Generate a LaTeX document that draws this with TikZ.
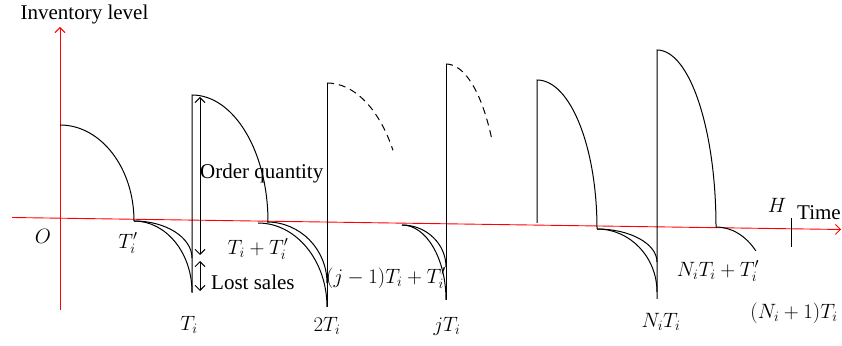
\documentclass[tikz,border=0pt]{standalone}
\usepackage{fontspec}
\setmainfont{Liberation Serif}
\usetikzlibrary{arrows.meta}
\tikzset{
  axisline/.style={draw=red, line width=0.9pt, -{Straight Barb[length=5pt,width=10pt]}},
  curve/.style={draw=black, line width=1pt},
  dcurve/.style={draw=black, line width=1pt, dash pattern=on 7pt off 5pt},
  dimarrow/.style={draw=black, line width=0.9pt, {Straight Barb[length=5pt,width=10pt]}-{Straight Barb[length=5pt,width=10pt]}},
  lbl/.style={inner sep=0pt, font=\fontsize{21}{24}\selectfont},
  mlbl/.style={inner sep=0pt, font=\fontsize{22}{25}\selectfont},
}
\begin{document}
\begin{tikzpicture}[x=1pt,y=1pt]
\useasboundingbox (0,0) rectangle (842,345);
% axes
\coordinate (ybot) at (60,35);
\coordinate (ytop) at (60,318);
\coordinate (xl) at (12,127.5);
\coordinate (xr) at (841,115.5);
\draw[axisline] (ybot) -- (ytop);
\draw[axisline] (xl) -- (xr);
% first cycle
\draw[curve] (60,220) arc[start angle=90,end angle=0,x radius=74,y radius=96];
\draw[curve] (134,124) arc[start angle=90,end angle=0,x radius=58,y radius=71];
\draw[curve] (134,124) arc[start angle=90,end angle=0,x radius=58,y radius=37];
\draw[curve] (192,52) -- (192,250) arc[start angle=90,end angle=0,x radius=76,y radius=127];
% dimension arrows
\coordinate (oqt) at (200,248);
\coordinate (oqb) at (200,90);
\coordinate (lst) at (200,84);
\coordinate (lsb) at (200,54);
\draw[dimarrow] (oqt) -- (oqb);
\draw[dimarrow] (lst) -- (lsb);
% second cycle
\draw[curve] (258,122) arc[start angle=90,end angle=0,x radius=69,y radius=84];
\draw[curve] (267,123) arc[start angle=90,end angle=0,x radius=60,y radius=61];
\draw[curve] (327,38) -- (327,262);
\draw[dcurve] (327,262) arc[start angle=90,end angle=31,x radius=77,y radius=139];
% third cycle
\draw[curve] (402,120) arc[start angle=90,end angle=0,x radius=44,y radius=75];
\draw[curve] (402,120) arc[start angle=90,end angle=0,x radius=44,y radius=42];
\draw[curve] (446,45) -- (446,281);
\draw[dcurve] (446,281) arc[start angle=90,end angle=32,x radius=54,y radius=160];
% fourth cycle
\draw[curve] (537,122) -- (537,265) arc[start angle=90,end angle=0,x radius=60,y radius=149];
\draw[curve] (597,116) arc[start angle=90,end angle=0,x radius=60,y radius=63];
\draw[curve] (597,116) arc[start angle=90,end angle=0,x radius=60,y radius=33];
\draw[curve] (657,46) -- (657,295) arc[start angle=90,end angle=0,x radius=59,y radius=177];
\draw[curve] (716,118) arc[start angle=90,end angle=40,x radius=52,y radius=67];
% horizon tick
\draw[curve] (791,127) -- (791,98);
% labels
\node[lbl] (inv) at (84.5,331) {Inventory level};
\node[mlbl] (o) at (43,109) {$O$};
\node[mlbl] (t1p) at (128,102) {$T_i'$};
\node[mlbl] (t1) at (189,20) {$T_i$};
\node[mlbl] (t2p) at (258,96) {$T_i+T_i'$};
\node[lbl, anchor=west] (oq) at (200,172) {Order quantity};
\node[lbl, anchor=west] (ls) at (211,63) {Lost sales};
\node[mlbl] (t2) at (327,19) {$2T_i$};
\node[mlbl] (tj1) at (386,67) {$(j-1)T_i+T_i'$};
\node[mlbl] (tj) at (447,19) {$jT_i$};
\node[mlbl] (tn) at (661,23) {$N_iT_i$};
\node[mlbl] (tnp) at (718,74) {$N_iT_i+T_i'$};
\node[mlbl] (tn1) at (794,32) {$(N_i+1)T_i$};
\node[mlbl] (h) at (777,140) {$H$};
\node[lbl, anchor=west] (time) at (797,132) {Time};
\end{tikzpicture}
\end{document}
